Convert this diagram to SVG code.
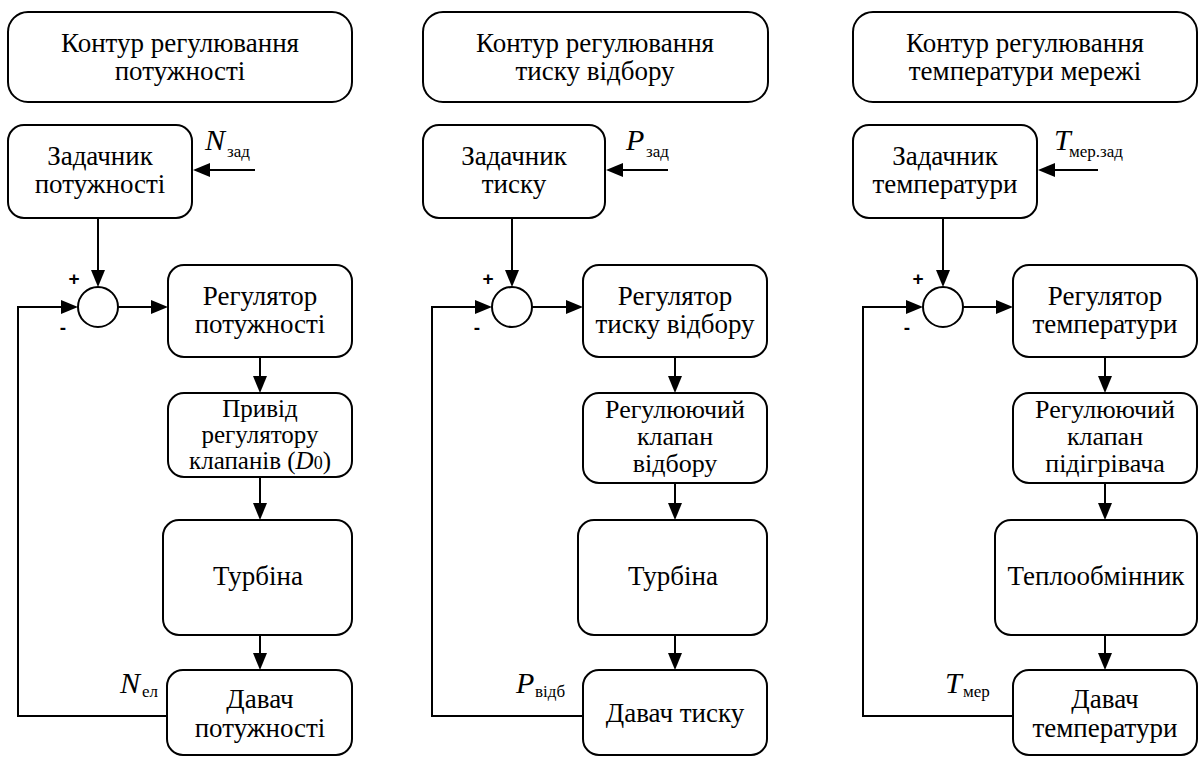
<svg xmlns="http://www.w3.org/2000/svg" width="1201" height="758" viewBox="0 0 1201 758">
  <rect width="1201" height="758" fill="#fff"/>

  <!-- Connectors: shafts share one stroke, heads are filled triangles -->
  <g id="connectors">
    <g fill="none" stroke="#000" stroke-width="2">
      <!-- power loop -->
      <line x1="255" y1="170" x2="205" y2="170"/>
      <line x1="98" y1="218" x2="98" y2="275"/>
      <line x1="118" y1="307" x2="156" y2="307"/>
      <line x1="260" y1="357" x2="260" y2="381"/>
      <line x1="260" y1="477" x2="260" y2="508"/>
      <line x1="260" y1="635" x2="260" y2="658"/>
      <polyline points="167,716 18,716 18,307 66,307"/>
      <!-- extraction pressure loop -->
      <line x1="668" y1="170" x2="618" y2="170"/>
      <line x1="512" y1="218" x2="512" y2="275"/>
      <line x1="532" y1="307" x2="571" y2="307"/>
      <line x1="675" y1="357" x2="675" y2="381"/>
      <line x1="675" y1="483" x2="675" y2="508"/>
      <line x1="675" y1="635" x2="675" y2="658"/>
      <polyline points="583,716 432,716 432,307 480,307"/>
      <!-- network temperature loop -->
      <line x1="1098" y1="170" x2="1050" y2="170"/>
      <line x1="943" y1="218" x2="943" y2="275"/>
      <line x1="963" y1="307" x2="1001" y2="307"/>
      <line x1="1105" y1="357" x2="1105" y2="381"/>
      <line x1="1105" y1="483" x2="1105" y2="508"/>
      <line x1="1105" y1="635" x2="1105" y2="658"/>
      <polyline points="1013,716 863,716 863,307 911,307"/>
    </g>
    <g fill="#000">
      <!-- power loop heads -->
      <polygon points="193,170 210,163 210,177"/>
      <polygon points="98,287 91,270 105,270"/>
      <polygon points="168,307 151,300 151,314"/>
      <polygon points="260,393 253,376 267,376"/>
      <polygon points="260,520 253,503 267,503"/>
      <polygon points="260,670 253,653 267,653"/>
      <polygon points="78,307 61,300 61,314"/>
      <!-- extraction pressure loop heads -->
      <polygon points="606,170 623,163 623,177"/>
      <polygon points="512,287 505,270 519,270"/>
      <polygon points="583,307 566,300 566,314"/>
      <polygon points="675,393 668,376 682,376"/>
      <polygon points="675,520 668,503 682,503"/>
      <polygon points="675,670 668,653 682,653"/>
      <polygon points="492,307 475,300 475,314"/>
      <!-- network temperature loop heads -->
      <polygon points="1038,170 1055,163 1055,177"/>
      <polygon points="943,287 936,270 950,270"/>
      <polygon points="1013,307 996,300 996,314"/>
      <polygon points="1105,393 1098,376 1112,376"/>
      <polygon points="1105,520 1098,503 1112,503"/>
      <polygon points="1105,670 1098,653 1112,653"/>
      <polygon points="923,307 906,300 906,314"/>
    </g>
  </g>

  <!-- Blocks: white rounded boxes with black outline, serif captions -->
  <g id="blocks" fill="#fff" stroke="#000" stroke-width="2" font-family="'Liberation Serif', 'Times New Roman', serif" font-size="27" text-anchor="middle">

    <!-- Column 1: power control loop -->
    <g id="title-power">
      <rect x="8" y="12" width="344" height="90" rx="20"/>
      <text fill="#000" stroke="none"><tspan x="180" y="52">Контур регулювання</tspan><tspan x="180" y="80">потужності</tspan></text>
    </g>
    <g id="setter-power">
      <rect x="8" y="125" width="184" height="93" rx="16"/>
      <text fill="#000" stroke="none"><tspan x="100" y="165">Задачник</tspan><tspan x="100" y="193">потужності</tspan></text>
    </g>
    <g id="sum-power">
      <circle cx="98" cy="307" r="20"/>
    </g>
    <g id="regulator-power">
      <rect x="168" y="265" width="184" height="92" rx="16"/>
      <text fill="#000" stroke="none"><tspan x="260" y="305">Регулятор</tspan><tspan x="260" y="333">потужності</tspan></text>
    </g>
    <g id="drive-valves">
      <rect x="168" y="393" width="184" height="84" rx="16"/>
      <text fill="#000" stroke="none" font-size="25"><tspan x="260" y="417">Привід</tspan><tspan x="260" y="443">регулятору</tspan><tspan x="260" y="469">клапанів (<tspan font-style="italic">D</tspan><tspan font-size="18">0</tspan>)</tspan></text>
    </g>
    <g id="turbine-1">
      <rect x="163" y="520" width="189" height="115" rx="16"/>
      <text x="258" y="585" fill="#000" stroke="none">Турбіна</text>
    </g>
    <g id="sensor-power">
      <rect x="167" y="670" width="185" height="85" rx="16"/>
      <text fill="#000" stroke="none"><tspan x="260" y="708">Давач</tspan><tspan x="260" y="737">потужності</tspan></text>
    </g>

    <!-- Column 2: extraction pressure control loop -->
    <g id="title-pressure">
      <rect x="423" y="12" width="345" height="90" rx="20"/>
      <text fill="#000" stroke="none"><tspan x="595" y="52">Контур регулювання</tspan><tspan x="595" y="80">тиску відбору</tspan></text>
    </g>
    <g id="setter-pressure">
      <rect x="423" y="125" width="182" height="93" rx="16"/>
      <text fill="#000" stroke="none"><tspan x="514" y="165">Задачник</tspan><tspan x="514" y="193">тиску</tspan></text>
    </g>
    <g id="sum-pressure">
      <circle cx="512" cy="307" r="20"/>
    </g>
    <g id="regulator-pressure">
      <rect x="583" y="265" width="184" height="92" rx="16"/>
      <text fill="#000" stroke="none"><tspan x="675" y="305">Регулятор</tspan><tspan x="675" y="333">тиску відбору</tspan></text>
    </g>
    <g id="valve-extraction">
      <rect x="583" y="393" width="184" height="90" rx="16"/>
      <text fill="#000" stroke="none" font-size="26"><tspan x="675" y="418">Регулюючий</tspan><tspan x="675" y="445">клапан</tspan><tspan x="675" y="472">відбору</tspan></text>
    </g>
    <g id="turbine-2">
      <rect x="578" y="520" width="189" height="115" rx="16"/>
      <text x="673" y="585" fill="#000" stroke="none">Турбіна</text>
    </g>
    <g id="sensor-pressure">
      <rect x="583" y="670" width="184" height="85" rx="16"/>
      <text x="675" y="722" fill="#000" stroke="none">Давач тиску</text>
    </g>

    <!-- Column 3: network temperature control loop -->
    <g id="title-temperature">
      <rect x="853" y="12" width="344" height="90" rx="20"/>
      <text fill="#000" stroke="none"><tspan x="1025" y="52">Контур регулювання</tspan><tspan x="1025" y="80">температури мережі</tspan></text>
    </g>
    <g id="setter-temperature">
      <rect x="853" y="125" width="184" height="93" rx="16"/>
      <text fill="#000" stroke="none"><tspan x="945" y="165">Задачник</tspan><tspan x="945" y="193">температури</tspan></text>
    </g>
    <g id="sum-temperature">
      <circle cx="943" cy="307" r="20"/>
    </g>
    <g id="regulator-temperature">
      <rect x="1013" y="265" width="184" height="92" rx="16"/>
      <text fill="#000" stroke="none"><tspan x="1105" y="305">Регулятор</tspan><tspan x="1105" y="333">температури</tspan></text>
    </g>
    <g id="valve-heater">
      <rect x="1013" y="393" width="184" height="90" rx="16"/>
      <text fill="#000" stroke="none" font-size="26"><tspan x="1105" y="418">Регулюючий</tspan><tspan x="1105" y="445">клапан</tspan><tspan x="1105" y="472">підігрівача</tspan></text>
    </g>
    <g id="heat-exchanger">
      <rect x="995" y="520" width="202" height="115" rx="16"/>
      <text x="1096" y="585" fill="#000" stroke="none">Теплообмінник</text>
    </g>
    <g id="sensor-temperature">
      <rect x="1013" y="670" width="184" height="85" rx="16"/>
      <text fill="#000" stroke="none"><tspan x="1105" y="708">Давач</tspan><tspan x="1105" y="737">температури</tspan></text>
    </g>
  </g>

  <!-- Signal names: italic variable with upright subscript -->
  <g id="signal-labels" fill="#000" font-family="'Liberation Serif', 'Times New Roman', serif">
    <text id="label-n-set" x="205" y="150"><tspan font-size="30" font-style="italic">N</tspan><tspan x="227" y="157" font-size="17">зад</tspan></text>
    <text id="label-n-el" x="120" y="693"><tspan font-size="30" font-style="italic">N</tspan><tspan x="142" y="697" font-size="17">ел</tspan></text>
    <text id="label-p-set" x="626" y="150"><tspan font-size="30" font-style="italic">P</tspan><tspan x="646" y="157" font-size="17">зад</tspan></text>
    <text id="label-p-extr" x="516" y="693"><tspan font-size="30" font-style="italic">P</tspan><tspan x="535" y="697" font-size="17">відб</tspan></text>
    <text id="label-t-set" x="1054" y="150"><tspan font-size="30" font-style="italic">T</tspan><tspan x="1069" y="157" font-size="17">мер.зад</tspan></text>
    <text id="label-t-net" x="945" y="693"><tspan font-size="30" font-style="italic">T</tspan><tspan x="963" y="697" font-size="17">мер</tspan></text>
  </g>

  <!-- Summing junction signs -->
  <g id="signs" fill="#000" font-family="'Liberation Sans', Arial, sans-serif" font-size="19" font-weight="bold" text-anchor="middle">
    <text x="74" y="285">+</text>
    <text x="63" y="334">-</text>
    <text x="488" y="285">+</text>
    <text x="477" y="334">-</text>
    <text x="918" y="285">+</text>
    <text x="907" y="334">-</text>
  </g>
</svg>
